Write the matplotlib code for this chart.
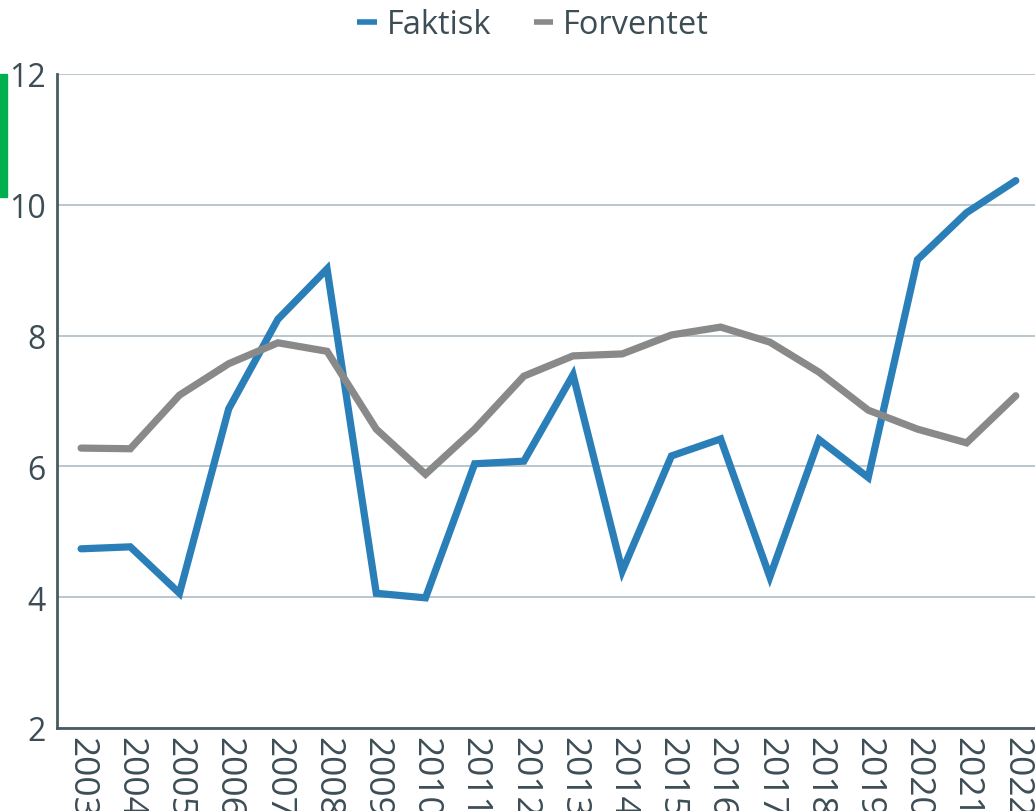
import matplotlib
matplotlib.use("Agg")
import matplotlib.pyplot as plt
from matplotlib.patches import Rectangle

years = [str(y) for y in range(2003, 2023)]
faktisk = [4.74, 4.77, 4.06, 6.88, 8.25, 9.02, 4.06, 3.99, 6.04, 6.08,
           7.40, 4.40, 6.16, 6.42, 4.31, 6.41, 5.83, 9.16, 9.88, 10.37]
forventet = [6.28, 6.27, 7.09, 7.57, 7.89, 7.76, 6.57, 5.88, 6.57, 7.38,
             7.69, 7.72, 8.01, 8.13, 7.90, 7.44, 6.86, 6.57, 6.36, 7.08]
yticks = [2, 4, 6, 8, 10, 12]

plt.rcParams['font.family'] = ['Open Sans', 'DejaVu Sans']
txt = '#3d4d56'
W, H = 1035, 812
fig = plt.figure(figsize=(W / 100, H / 100), dpi=100)
ax = fig.add_axes([57 / W, (H - 729) / H, (W - 57) / W, 654 / H])

x = list(range(len(years)))
ax.plot(x, faktisk, color='#2a7fb9', lw=5.2, solid_capstyle='round',
        solid_joinstyle='miter', label='Faktisk', clip_on=False)
ax.plot(x, forventet, color='#898989', lw=5.2, solid_capstyle='round',
        solid_joinstyle='miter', label='Forventet', clip_on=False)

ax.set_ylim(2, 12)
ax.set_xlim(-0.49, 19.39)
ax.set_yticks(yticks)
ax.set_yticklabels([str(v) for v in yticks])
ax.set_xticks(x)
ax.set_xticklabels(years, rotation=270, va='top', ha='center')
ax.grid(axis='y', color='#b4c2ca', lw=1.3)
ax.set_axisbelow(True)
for s in ['top', 'right']:
    ax.spines[s].set_visible(False)
for s in ['left', 'bottom']:
    ax.spines[s].set_color('#4a5a62')
    ax.spines[s].set_linewidth(2)
ax.tick_params(axis='both', length=0, colors=txt)
ax.tick_params(axis='y', pad=8, labelsize=23)
ax.tick_params(axis='x', pad=6, labelsize=25.5)

leg = fig.legend(loc='center', bbox_to_anchor=(533 / W, 1 - 26 / H), ncol=2,
                 frameon=False, fontsize=23.5, handlelength=0.6,
                 handletextpad=0.3, columnspacing=1.3, labelcolor=txt)
for h in leg.get_lines():
    h.set_linewidth(4)
    h.set_solid_capstyle('butt')

fig.patches.append(Rectangle((0, (H - 198) / H), 7 / W, 123 / H,
                             transform=fig.transFigure, color='#00b050'))

fig.savefig('out.png', dpi=100)
